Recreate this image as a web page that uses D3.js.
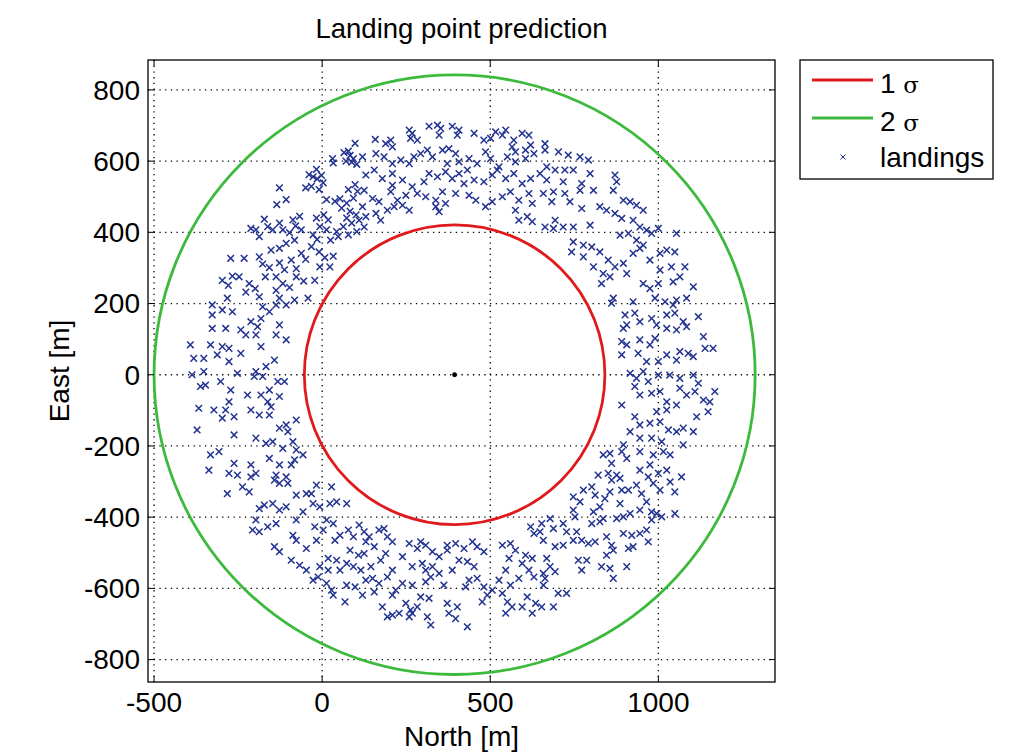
<!DOCTYPE html>
<html>
<head>
<meta charset="utf-8">
<script src="https://cdn.jsdelivr.net/npm/d3@7"></script>
<style>
  body { margin: 0; background: #fff; }
  text { font-family: Arial, "Liberation Sans", sans-serif; fill: #000; }
</style>
</head>
<body>
<div id="chart"></div>
<script>
// tick values
const xTicks = [-500, 0, 500, 1000];
const yTicks = [-800, -600, -400, -200, 0, 200, 400, 600, 800];

// mean landing point and 1 sigma radii (north, east)
const meanPoint = [394, 0];
const sigmaRadii = [447, 421];
const sigmaLevels = [1, 2];
const sigmaNames = ["1", "2"];
const sigmaColors = ["#e01a1c", "#3dba3d"];

// landing points [north, east]
const landings = [
  // upper left
  [98,650],[65,624],[78,628],[83,616],[93,607],[71,600],[88,597],[103,591],[31,607],[33,595],
  [-17,577],[-39,562],[-27,556],[-15,550],[-2,560],[-49,525],[-32,529],[3,539],[-9,520],[-127,525],
  [-107,492],[-135,478],[13,492],[38,487],[53,494],[73,482],[93,496],[105,515],[98,534],[78,520],
  [58,468],[83,459],[101,449],[73,440],[88,426],[63,416],[103,402],[78,393],[48,388],[25,378],
  [43,402],[13,407],[-17,440],[5,449],[18,435],[-7,416],[-27,393],[-15,380],[-32,360],[-9,345],
  [8,329],[33,333],[23,303],[-7,303],[-67,445],[-87,435],[-79,418],[-97,399],[-62,407],[-117,407],
  [-147,407],[-127,426],[-172,437],[-197,407],[-212,411],[-187,388],[-162,416],[-82,378],[-107,369],[-127,355],
  [-152,350],[-187,331],[-232,327],[-272,327],[-62,341],[-49,324],[-177,311],[-157,301],[-127,314],[-112,295],
  [-92,322],[-77,298],[-297,265],[-267,277],[-247,275],[-279,251],[-217,256],[-199,242],[-169,275],[-137,275],
  [-117,256],[-77,275],[-55,263],[-22,265],[-97,245],[-137,237],[-227,232],
  // top
  [158,661],[189,649],[204,659],[209,640],[259,687],[268,678],[263,664],[283,659],[318,698],[343,701],
  [353,692],[348,673],[387,698],[402,673],[407,687],[452,678],[481,659],[501,664],[516,682],[536,673],
  [546,687],[570,659],[595,678],[615,673],[620,645],[605,631],[575,626],[565,640],[120,612],[160,621],
  [184,612],[209,593],[234,603],[259,593],[273,612],[293,621],[313,631],[328,612],[358,631],[377,635],
  [397,621],[372,593],[407,598],[437,607],[461,593],[486,626],[501,607],[526,584],[551,612],[575,598],
  [605,607],[630,621],[130,561],[155,575],[179,551],[209,565],[209,532],[239,547],[268,528],[303,542],
  [318,565],[343,556],[367,570],[387,551],[407,565],[432,575],[422,537],[452,547],[481,542],[506,561],
  [521,575],[546,551],[570,565],[595,537],[620,551],[125,518],[150,495],[169,486],[204,514],[224,490],
  [249,504],[283,509],[308,500],[338,490],[358,514],[367,481],[397,509],[437,504],[457,490],[486,472],
  [506,486],[536,500],[560,514],[585,490],[615,509],[625,481],[120,472],[130,444],[125,415],[160,453],
  [174,434],[194,462],[214,472],[239,476],[259,462],[338,472],[348,458],[575,462],[585,434],[610,444],
  [625,430],[110,434],
  // upper right
  [663,649],[663,631],[703,626],[732,617],[767,612],[792,603],[668,584],[648,565],[693,575],[722,575],
  [747,575],[668,547],[717,542],[797,565],[772,537],[688,514],[658,509],[722,509],[767,518],[807,518],
  [871,561],[876,542],[866,518],[683,486],[737,486],[772,467],[826,472],[846,462],[871,453],[896,490],
  [916,486],[935,476],[955,462],[891,439],[925,434],[945,415],[965,406],[980,397],[1000,411],[1054,397],
  [693,434],[663,415],[688,411],[717,415],[747,415],[797,420],[886,392],[911,397],[935,378],[955,364],
  [747,373],[777,364],[742,345],[802,359],[826,345],[851,322],[871,303],[896,313],[906,284],[925,341],
  [945,355],[1005,341],[1025,350],[1049,345],[975,322],[1005,294],[1039,303],[1079,303],[1064,275],[777,331],
  [807,303],[836,284],[856,275],[831,256],[955,256],[975,242],[1000,256],[1044,261],[1104,247],
  // left
  [-282,215],[-327,196],[-297,182],[-267,177],[-327,168],[-187,219],[-177,191],[-182,158],[-212,149],[-127,215],
  [-107,196],[-82,210],[-42,215],[-157,177],[-137,196],[-327,130],[-287,130],[-242,126],[-227,112],[-197,112],
  [-192,135],[-127,140],[-107,98],[-137,112],[-392,84],[-332,84],[-297,79],[-277,74],[-312,56],[-382,46],
  [-352,46],[-242,60],[-277,37],[-182,79],[-142,41],[-167,23],[-197,9],[-177,-5],[-202,-5],[-252,4],
  [-387,0],[-352,9],[-302,-19],[-347,-29],[-272,-43],[-362,-33],[-132,-19],[-112,-19],[-157,-43],[-222,-57],
  [-182,-57],[-277,-76],[-162,-76],[-152,-90],[-127,-61],[-367,-94],[-322,-99],[-287,-99],[-297,-122],[-262,-118],
  [-212,-99],[-187,-113],[-157,-113],[-77,-127],[-107,-141],[-127,-150],[-102,-160],[-87,-188],[-372,-155],[-262,-169],
  [-197,-178],[-167,-193],[-147,-188],[-77,-211],[-57,-225],[-82,-239],[-332,-225],[-307,-216],[-262,-249],[-212,-253],
  [-157,-235],[-127,-253],[-92,-253],[-117,-207],
  // right
  [861,201],[866,215],[925,205],[990,215],[1020,205],[1054,210],[1084,215],[1044,196],[901,168],[930,173],
  [906,140],[896,130],[945,149],[980,158],[995,140],[1025,168],[1049,173],[1074,149],[1119,163],[891,93],
  [906,84],[945,98],[975,84],[990,102],[1025,130],[1054,126],[1084,135],[1134,107],[1139,74],[1163,74],
  [891,56],[940,60],[965,37],[1000,37],[1025,56],[1064,65],[1089,60],[1104,51],[1054,41],[916,4],
  [935,-10],[955,9],[970,-19],[1000,-1],[1034,-1],[1064,-10],[1104,-1],[1119,-24],[1168,-47],[1134,-71],
  [1153,-76],[930,-33],[945,-57],[980,-52],[1005,-47],[1025,-76],[1064,-38],[1084,-57],[1109,-47],[891,-85],
  [995,-104],[1025,-99],[1054,-85],[1114,-118],[1148,-104],[930,-118],[945,-141],[975,-136],[1005,-132],[1030,-155],
  [1054,-160],[1074,-150],[1104,-160],[916,-160],[896,-197],[945,-178],[980,-178],[1010,-188],[1074,-197],[836,-225],
  [856,-221],[891,-216],[906,-235],[945,-216],[985,-225],[1015,-216],[1035,-225],[861,-249],[975,-253],
  // lower left
  [-337,-268],[-277,-277],[-252,-282],[-212,-287],[-197,-277],[-137,-282],[-107,-287],[-127,-305],[-102,-305],[-282,-334],
  [-237,-315],[-217,-329],[-142,-296],[-77,-338],[-47,-334],[-32,-334],[-17,-310],[28,-315],[-172,-366],[-187,-376],
  [-147,-362],[-127,-380],[-107,-371],[-77,-408],[-57,-385],[-27,-362],[-7,-371],[23,-362],[43,-357],[73,-362],
  [-197,-408],[-207,-436],[-187,-441],[-162,-427],[-137,-418],[-87,-451],[-77,-465],[-47,-488],[-17,-465],[-22,-427],
  [13,-408],[3,-436],[33,-418],[38,-465],[53,-451],[78,-436],[93,-455],[83,-493],[-142,-483],[-127,-497],
  [-92,-521],[-67,-535],[-47,-549],[-27,-577],[-12,-568],[-7,-539],[18,-549],[43,-521],[53,-549],[93,-539],
  [13,-586],[28,-605],[33,-619],[73,-591],[98,-596],[68,-638],[18,-516],[73,-530],[108,-507],
  // bottom
  [110,-422],[125,-441],[140,-455],[130,-469],[155,-483],[169,-436],[184,-432],[194,-455],[209,-469],[125,-502],
  [174,-521],[189,-502],[145,-539],[115,-549],[130,-577],[150,-572],[169,-586],[120,-619],[155,-610],[194,-568],
  [209,-549],[239,-511],[259,-474],[283,-488],[293,-469],[308,-479],[328,-497],[268,-539],[298,-530],[308,-549],
  [328,-539],[348,-511],[372,-493],[372,-479],[397,-474],[422,-488],[447,-469],[461,-483],[481,-497],[407,-521],
  [387,-549],[432,-525],[452,-539],[348,-558],[323,-568],[362,-591],[308,-582],[268,-591],[239,-586],[219,-605],
  [293,-624],[318,-628],[283,-652],[263,-661],[249,-642],[209,-619],[179,-652],[194,-680],[209,-675],[229,-670],
  [259,-680],[268,-670],[313,-680],[323,-703],[372,-642],[402,-652],[377,-670],[397,-685],[432,-708],[427,-596],
  [437,-577],[461,-572],[481,-596],[491,-619],[476,-638],[506,-605],[526,-577],[546,-549],[556,-516],[536,-479],
  [560,-474],[575,-493],[605,-507],[625,-516],[595,-530],[615,-549],[630,-568],[585,-572],[560,-591],[536,-614],
  [551,-638],[565,-652],[546,-670],[595,-652],[610,-624],[635,-642],[625,-670],[630,-446],[620,-427],
  // lower right
  [821,-282],[851,-277],[876,-282],[861,-296],[886,-291],[945,-268],[970,-287],[1000,-277],[1025,-268],[1069,-287],
  [1035,-301],[1049,-329],[802,-315],[777,-324],[812,-338],[747,-343],[767,-357],[841,-348],[856,-329],[891,-324],
  [911,-324],[935,-310],[950,-334],[985,-305],[1005,-324],[747,-380],[752,-399],[807,-385],[826,-371],[836,-404],
  [886,-362],[896,-399],[916,-390],[945,-380],[965,-357],[980,-385],[995,-390],[1010,-399],[1049,-390],[980,-408],
  [678,-404],[653,-418],[688,-432],[717,-418],[727,-441],[757,-441],[802,-418],[826,-413],[876,-404],[896,-446],
  [921,-451],[945,-446],[965,-436],[970,-469],[925,-483],[911,-488],[846,-455],[861,-479],[866,-493],[812,-469],
  [792,-474],[772,-465],[747,-465],[717,-479],[693,-483],[658,-465],[648,-441],[668,-516],[678,-539],[658,-558],
  [693,-553],[762,-521],[787,-521],[772,-549],[846,-507],[831,-539],[856,-544],[906,-539],[866,-572],[663,-572],
  [658,-591],[702,-614],[727,-614],[653,-652],[688,-652]
];

const W = 1026, H = 755;
const plot = { left: 148, right: 775, top: 60, bottom: 682 };

const svg = d3.select("#chart").append("svg")
  .attr("width", W)
  .attr("height", H);

const x = d3.scaleLinear().domain([-518, 1347]).range([plot.left, plot.right]);
const y = d3.scaleLinear().domain([-863, 884]).range([plot.bottom, plot.top]);

// dotted grid
const grid = svg.append("g")
  .attr("stroke", "#000")
  .attr("stroke-width", 1.3)
  .attr("stroke-dasharray", "1.3,4.4");
grid.selectAll(".gx").data(xTicks).enter().append("line")
  .attr("x1", d => x(d)).attr("x2", d => x(d))
  .attr("y1", plot.top).attr("y2", plot.bottom);
grid.selectAll(".gy").data(yTicks).enter().append("line")
  .attr("y1", d => y(d)).attr("y2", d => y(d))
  .attr("x1", plot.left).attr("x2", plot.right);

// landing markers
const cross = "M-3.3,-3.3L3.3,3.3M-3.3,3.3L3.3,-3.3";
svg.append("g")
  .selectAll("path")
  .data(landings)
  .enter().append("path")
  .attr("d", cross)
  .attr("transform", d => `translate(${x(d[0])},${y(d[1])})`)
  .attr("fill", "none")
  .attr("stroke", "#233390")
  .attr("stroke-width", 1.5);

// sigma ellipses
svg.append("g")
  .selectAll("ellipse")
  .data(sigmaLevels)
  .enter().append("ellipse")
  .attr("cx", x(meanPoint[0]))
  .attr("cy", y(meanPoint[1]))
  .attr("rx", k => x(meanPoint[0] + k * sigmaRadii[0]) - x(meanPoint[0]))
  .attr("ry", k => y(meanPoint[1]) - y(meanPoint[1] + k * sigmaRadii[1]))
  .attr("fill", "none")
  .attr("stroke", (k, i) => sigmaColors[i])
  .attr("stroke-width", 2.8);

// mean point
svg.append("circle")
  .attr("cx", x(meanPoint[0]))
  .attr("cy", y(meanPoint[1]))
  .attr("r", 2.4)
  .attr("fill", "#000");

// axes box with inward ticks
const axisG = svg.append("g");
axisG.append("rect")
  .attr("x", plot.left).attr("y", plot.top)
  .attr("width", plot.right - plot.left)
  .attr("height", plot.bottom - plot.top)
  .attr("fill", "none")
  .attr("stroke", "#000")
  .attr("stroke-width", 1.3);

const tl = 6;
xTicks.forEach(t => {
  axisG.append("line").attr("x1", x(t)).attr("x2", x(t))
    .attr("y1", plot.bottom).attr("y2", plot.bottom - tl).attr("stroke", "#000");
  axisG.append("line").attr("x1", x(t)).attr("x2", x(t))
    .attr("y1", plot.top).attr("y2", plot.top + tl).attr("stroke", "#000");
});
yTicks.forEach(t => {
  axisG.append("line").attr("y1", y(t)).attr("y2", y(t))
    .attr("x1", plot.left).attr("x2", plot.left + tl).attr("stroke", "#000");
  axisG.append("line").attr("y1", y(t)).attr("y2", y(t))
    .attr("x1", plot.right).attr("x2", plot.right - tl).attr("stroke", "#000");
});

// tick labels
svg.append("g").selectAll("text")
  .data(xTicks).enter().append("text")
  .attr("x", d => x(d))
  .attr("y", 712)
  .attr("text-anchor", "middle")
  .attr("font-size", 28)
  .text(d => d);

svg.append("g").selectAll("text")
  .data(yTicks).enter().append("text")
  .attr("x", 140)
  .attr("y", d => y(d))
  .attr("dy", "0.35em")
  .attr("text-anchor", "end")
  .attr("font-size", 28)
  .text(d => d);

// title and axis labels
svg.append("text")
  .attr("x", (plot.left + plot.right) / 2)
  .attr("y", 38)
  .attr("text-anchor", "middle")
  .attr("font-size", 27.5)
  .text("Landing point prediction");

svg.append("text")
  .attr("x", (plot.left + plot.right) / 2)
  .attr("y", 746)
  .attr("text-anchor", "middle")
  .attr("font-size", 28)
  .text("North [m]");

svg.append("text")
  .attr("transform", `translate(69,${(plot.top + plot.bottom) / 2}) rotate(-90)`)
  .attr("text-anchor", "middle")
  .attr("font-size", 28)
  .text("East [m]");

// legend
const lg = svg.append("g");
lg.append("rect")
  .attr("x", 800).attr("y", 60)
  .attr("width", 193).attr("height", 119)
  .attr("fill", "#fff")
  .attr("stroke", "#000")
  .attr("stroke-width", 1.3);

sigmaLevels.forEach((k, i) => {
  const ly = 80 + i * 38;
  lg.append("line")
    .attr("x1", 812).attr("x2", 873)
    .attr("y1", ly).attr("y2", ly)
    .attr("stroke", sigmaColors[i])
    .attr("stroke-width", 2.8);
  const t = lg.append("text")
    .attr("x", 880).attr("y", ly + 13)
    .attr("font-size", 28);
  t.append("tspan").text(sigmaNames[i] + " ");
  t.append("tspan").attr("font-size", 23).attr("font-family", "'DejaVu Serif', serif").text("σ");
});

lg.append("path")
  .attr("d", "M-2.5,-2.5L2.5,2.5M-2.5,2.5L2.5,-2.5")
  .attr("transform", "translate(843,157)")
  .attr("stroke", "#233390")
  .attr("stroke-width", 1);
lg.append("text")
  .attr("x", 880).attr("y", 167)
  .attr("font-size", 28)
  .text("landings");
</script>
</body>
</html>
